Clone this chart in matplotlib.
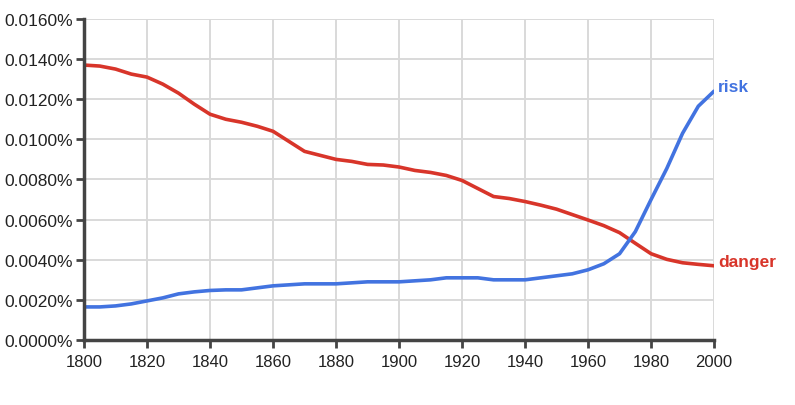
import matplotlib
matplotlib.use("Agg")
import matplotlib.pyplot as plt
from matplotlib.ticker import FuncFormatter

plt.rcParams['font.family'] = ['Liberation Sans', 'DejaVu Sans']

# Роки (крок 5 років)
years = list(range(1800, 2001, 5))

# Частота вживання, %
danger = [0.0137, 0.01365, 0.0135, 0.01325, 0.0131, 0.01275, 0.0123, 0.01175,
          0.01125, 0.0110, 0.01085, 0.01065, 0.0104, 0.0099, 0.0094, 0.0092,
          0.00900, 0.0089, 0.00875, 0.00872, 0.00862, 0.00845, 0.00835, 0.0082,
          0.00795, 0.00755, 0.00715, 0.00705, 0.0069, 0.00672, 0.00652, 0.00625,
          0.00598, 0.0057, 0.00535, 0.00482, 0.0043, 0.00402, 0.00385, 0.00377,
          0.0037]
risk = [0.00165, 0.00165, 0.0017, 0.0018, 0.00195, 0.0021, 0.0023, 0.0024,
        0.00247, 0.0025, 0.0025, 0.0026, 0.0027, 0.00275, 0.0028, 0.0028,
        0.0028, 0.00285, 0.0029, 0.0029, 0.0029, 0.00295, 0.003, 0.0031,
        0.0031, 0.0031, 0.003, 0.003, 0.003, 0.0031, 0.0032, 0.0033,
        0.0035, 0.0038, 0.0043, 0.0054, 0.0070, 0.00855, 0.0103, 0.01165,
        0.0124]

blue = "#4273e0"
red = "#d8352a"

fig = plt.figure(figsize=(7.95, 4.06), dpi=100)
ax = fig.add_axes([0.1057, 0.160, 0.7925, 0.791])

ax.plot(years, danger, color=red, linewidth=2.6, solid_capstyle="round")
ax.plot(years, risk, color=blue, linewidth=2.6, solid_capstyle="round")

ax.set_xlim(1800, 2000)
ax.set_ylim(0, 0.016)
ax.set_xticks(range(1800, 2001, 20))
ax.set_yticks([i * 0.002 for i in range(9)])
ax.yaxis.set_major_formatter(FuncFormatter(lambda v, p: f"{v:.4f}%"))

ax.grid(True, color="#d9d9d9", linewidth=1.4)
ax.set_axisbelow(True)
for s in ["top", "right"]:
    ax.spines[s].set_visible(False)
for s in ["left", "bottom"]:
    ax.spines[s].set_color("#444444")
    ax.spines[s].set_linewidth(2.5)
ax.tick_params(axis="both", colors="#444444", width=2, length=6,
               labelcolor="#222222")
ax.tick_params(axis="y", labelsize=12.5, pad=2)
ax.tick_params(axis="x", labelsize=12, pad=4)

ax.text(2001.2, risk[-1] + 0.00025, "risk", color=blue, fontsize=12.5,
        fontweight="bold", va="center", clip_on=False)
ax.text(2001.2, danger[-1] + 0.0002, "danger", color=red, fontsize=12.5,
        fontweight="bold", va="center", clip_on=False)

fig.savefig("out.png", dpi=100)
